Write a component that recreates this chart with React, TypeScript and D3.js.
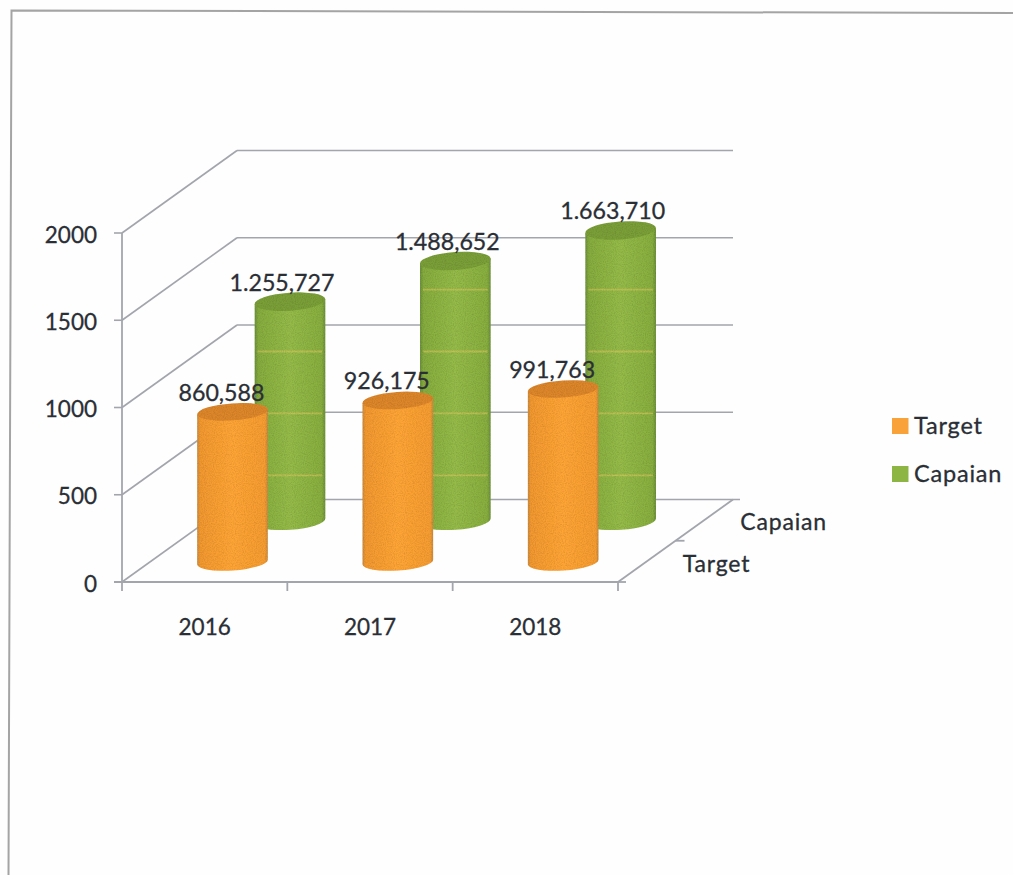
import React from "react";
import * as d3 from "d3";

// Chart content
const categories = ["2016", "2017", "2018"];
const seriesNames = ["Target", "Capaian"];
const targetValues = [860.588, 926.175, 991.763];
const capaianValues = [1255.727, 1488.652, 1663.71];
const yTicks = [0, 500, 1000, 1500, 2000];
// Pale bands wrapped round the green cylinders
const capaianBands = [260, 615, 970, 1325];

const W = 1013;
const H = 875;
const FONT = "Lato, 'Open Sans', sans-serif";
const TEXT = "#2a2e35";
const GRID = "#a3a5ad";

// Oblique projection: front wall position plus a depth vector
const x = d3.scaleBand<string>().domain(categories).range([122, 618]);
const y = d3.scaleLinear().domain([0, 2000]).range([582, 233]);
const depth = d3.scalePoint<string>().domain(seriesNames).range([0.242, 0.742]);
const DEPTH_X = 115;
const DEPTH_Y = -82.5;
const numberFormat = d3.formatLocale({
  decimal: ",",
  thousands: ".",
  grouping: [3],
  currency: ["", ""],
}).format(",.3f");

const RX = 35.4;
const TILT = 4;
const rad = (TILT * Math.PI) / 180;

function project(cat: string, series: string, value: number) {
  const d = depth(series) as number;
  return {
    cx: (x(cat) as number) + x.bandwidth() / 2 + d * DEPTH_X,
    cy: y(value) + d * DEPTH_Y,
  };
}

function Cylinder(props: {
  cat: string;
  series: string;
  value: number;
  bands: number[];
  side: string;
  cap: string;
  band: string;
  ry: number;
}) {
  const { cat, series, value, bands, side, cap, band, ry } = props;
  const base = project(cat, series, 0);
  const top = project(cat, series, value);
  const ex = RX * Math.cos(rad);
  const ey = RX * Math.sin(rad);
  const body =
    `M${base.cx - ex},${base.cy + ey}` +
    `A${RX},${ry} ${-TILT} 0 0 ${base.cx + ex},${base.cy - ey}` +
    `L${top.cx + ex},${top.cy - ey}L${top.cx - ex},${top.cy + ey}Z`;
  return (
    <g filter="url(#grain)">
      <path d={body} fill={side} />
      {bands
        .filter((b) => b < value)
        .map((b) => {
          const p = project(cat, series, b);
          return (
            <line
              key={b}
              x1={p.cx - ex + 3}
              x2={p.cx + ex - 3}
              y1={p.cy}
              y2={p.cy}
              stroke={band}
              strokeWidth={1.8}
              opacity={0.55}
            />
          );
        })}
      <ellipse
        cx={top.cx}
        cy={top.cy}
        rx={RX}
        ry={ry}
        fill={cap}
        transform={`rotate(${-TILT} ${top.cx} ${top.cy})`}
      />
    </g>
  );
}

export default function App() {
  const axisFront = y(0);
  const rightFloorX = x.range()[1];
  const backOffsetX = DEPTH_X;
  const midTick = 0.5;

  return (
    <svg
      width={W}
      height={H}
      viewBox={`0 0 ${W} ${H}`}
      style={{ position: "absolute", left: 0, top: 0, background: "#fefefe" }}
      fontFamily={FONT}
    >
      <defs>
        <linearGradient id="orangeSide" x1="0" x2="1" y1="0" y2="0">
          <stop offset="0" stopColor="#c98a3e" />
          <stop offset="0.04" stopColor="#f2982f" />
          <stop offset="0.5" stopColor="#ffa535" />
          <stop offset="0.96" stopColor="#f69c30" />
          <stop offset="1" stopColor="#c98a3e" />
        </linearGradient>
        <linearGradient id="greenSide" x1="0" x2="1" y1="0" y2="0">
          <stop offset="0" stopColor="#6b9038" />
          <stop offset="0.05" stopColor="#86ac3e" />
          <stop offset="0.5" stopColor="#95bb48" />
          <stop offset="0.95" stopColor="#88ae3f" />
          <stop offset="1" stopColor="#6b9038" />
        </linearGradient>
        <filter id="grain" x="-5%" y="-5%" width="110%" height="110%">
          <feTurbulence type="fractalNoise" baseFrequency="0.9" numOctaves="2" seed="4" result="n" />
          <feColorMatrix
            in="n"
            type="matrix"
            values="0 0 0 0 0  0 0 0 0 0  0 0 0 0 0  0 0 0 1.1 -0.38"
            result="speck"
          />
          <feComposite in="speck" in2="SourceAlpha" operator="in" result="clipped" />
          <feComponentTransfer in="clipped" result="soft">
            <feFuncA type="linear" slope="0.4" />
          </feComponentTransfer>
          <feMerge>
            <feMergeNode in="SourceGraphic" />
            <feMergeNode in="soft" />
          </feMerge>
        </filter>
      </defs>

      {/* Page frame, open on the right and at the bottom */}
      <path d={`M${W},13L11.5,10.5L8.5,${H}`} fill="none" stroke="#a4a4a4" strokeWidth={2} />

      {/* Back wall gridlines and their diagonals on the side wall */}
      {yTicks.map((t) => {
        const yf = y(t);
        const yb = yf + DEPTH_Y;
        const x0 = x.range()[0];
        return (
          <g key={t} stroke={GRID} strokeWidth={1.6} fill="none">
            <line x1={x0} y1={yf} x2={x0 + backOffsetX} y2={yb} />
            <line
              x1={x0 + backOffsetX}
              y1={yb}
              x2={rightFloorX + backOffsetX + (t === 0 ? 7 : 0)}
              y2={yb}
            />
            <line x1={x0 - 8} y1={yf} x2={x0} y2={yf} />
          </g>
        );
      })}

      {/* Axes */}
      <g stroke={GRID} strokeWidth={1.8} fill="none">
        <line x1={x.range()[0]} y1={y(2000)} x2={x.range()[0]} y2={axisFront + 9} />
        <line x1={x.range()[0] - 8} y1={axisFront} x2={rightFloorX} y2={axisFront} />
        <line
          x1={rightFloorX}
          y1={axisFront}
          x2={rightFloorX + DEPTH_X}
          y2={axisFront + DEPTH_Y}
        />
        {categories.slice(1).map((c) => (
          <line
            key={c}
            x1={x(c) as number}
            x2={x(c) as number}
            y1={axisFront}
            y2={axisFront + 9}
          />
        ))}
        <line x1={rightFloorX} x2={rightFloorX} y1={axisFront} y2={axisFront + 9} />
        <line x1={rightFloorX} x2={rightFloorX + 8} y1={axisFront} y2={axisFront} />
        <line
          x1={rightFloorX + midTick * DEPTH_X}
          y1={axisFront + midTick * DEPTH_Y}
          x2={rightFloorX + midTick * DEPTH_X + 9}
          y2={axisFront + midTick * DEPTH_Y}
        />
      </g>

      {/* Back row first so the front row overlaps it */}
      {categories.map((c, i) => (
        <Cylinder
          key={c}
          cat={c}
          series="Capaian"
          value={capaianValues[i]}
          bands={capaianBands}
          side="url(#greenSide)"
          cap="#7a9f37"
          band="#dcc860"
          ry={9}
        />
      ))}
      {categories.map((c, i) => (
        <Cylinder
          key={c}
          cat={c}
          series="Target"
          value={targetValues[i]}
          bands={[]}
          side="url(#orangeSide)"
          cap="#dd862c"
          band="#f3c04f"
          ry={8.5}
        />
      ))}

      {/* All labels carry a hairline outline to give the heavier text weight */}
      <g stroke={TEXT} strokeWidth={0.3}>
        {/* Value labels */}
        <g fontSize={23.2} fill={TEXT} textAnchor="middle">
          {categories.map((c, i) => {
            const p = project(c, "Capaian", capaianValues[i]);
            return (
              <text key={c} x={p.cx - 8} y={p.cy - 11}>
                {numberFormat(capaianValues[i])}
              </text>
            );
          })}
          {categories.map((c, i) => {
            const p = project(c, "Target", targetValues[i]);
            return (
              <text key={c} x={p.cx - 11} y={p.cy - 11}>
                {numberFormat(targetValues[i])}
              </text>
            );
          })}
        </g>

        {/* Value axis labels */}
        <g fontSize={22.5} fill={TEXT} textAnchor="end">
          {yTicks.map((t) => (
            <text key={t} x={97} y={y(t) + 9.5}>
              {t}
            </text>
          ))}
        </g>

        {/* Category labels */}
        <g fontSize={22.5} fill={TEXT} textAnchor="middle">
          {categories.map((c) => (
            <text key={c} x={(x(c) as number) + x.bandwidth() / 2} y={634.5}>
              {c}
            </text>
          ))}
        </g>

        {/* Depth axis labels */}
        <g fontSize={23} fill={TEXT}>
          {seriesNames.map((s) => {
            const d = depth(s) as number;
            return (
              <text
                key={s}
                x={rightFloorX + d * DEPTH_X + 37}
                y={axisFront + d * DEPTH_Y + 9.5}
                letterSpacing={0.8}
              >
                {s}
              </text>
            );
          })}
        </g>

        {/* Legend */}
        <g fontSize={23.5} fill={TEXT}>
          {seriesNames.map((s, i) => (
            <g key={s} transform={`translate(892,${418 + i * 48})`}>
              <rect
                width={16.5}
                height={16}
                stroke="none"
                fill={s === "Target" ? "#f9a23a" : "#8db544"}
              />
              <text x={22} y={15.5} letterSpacing={0.8}>
                {s}
              </text>
            </g>
          ))}
        </g>
      </g>
    </svg>
  );
}
